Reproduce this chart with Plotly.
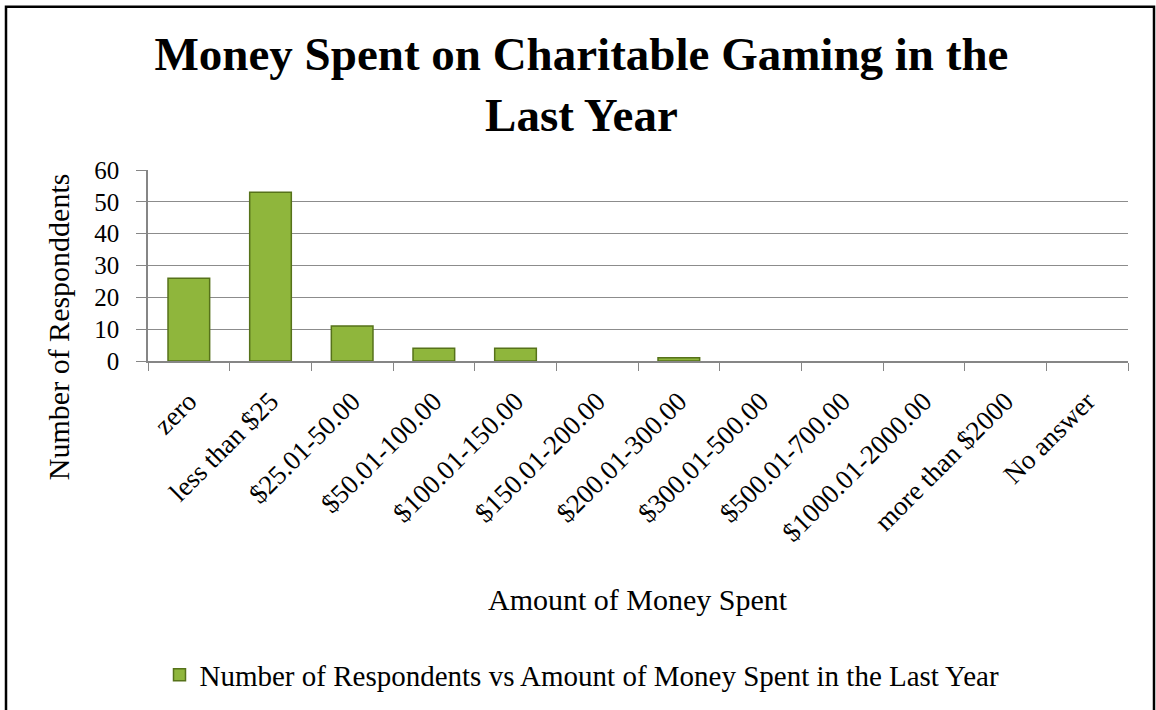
import plotly.graph_objects as go

categories = [
    "zero", "less than $25", "$25.01-50.00", "$50.01-100.00", "$100.01-150.00",
    "$150.01-200.00", "$200.01-300.00", "$300.01-500.00", "$500.01-700.00",
    "$1000.01-2000.00", "more than $2000", "No answer",
]
respondents = [26, 53, 11, 4, 4, 0, 1, 0, 0, 0, 0, 0]
y_ticks = [0, 10, 20, 30, 40, 50, 60]

W, H = 1156, 710
L, R, T, B = 148, 28, 170, 348
PW, PH = W - L - R, H - T - B

def px(x):
    return (x - L) / PW

def py(y):
    return (H - B - y) / PH

SERIF = "Liberation Serif, Times New Roman, serif"

# empty categories get no outline so nothing shows on the baseline
outline_widths = [1.5 if v > 0 else 0 for v in respondents]

fig = go.Figure()
fig.add_trace(go.Bar(
    x=categories,
    y=respondents,
    width=0.51,
    name="Number of Respondents vs Amount of Money Spent in the Last Year",
    marker=dict(color="#8fb63c", line=dict(color="#56721a", width=outline_widths)),
))

fig.update_layout(
    width=W, height=H,
    margin=dict(l=L, r=R, t=T, b=B),
    paper_bgcolor="white",
    plot_bgcolor="white",
    font=dict(family=SERIF, color="black"),
    title=dict(
        text="<b>Money Spent on Charitable Gaming in the<br>Last Year</b>",
        x=0.503, xref="container", xanchor="center",
        y=1 - 70 / H, yref="container", yanchor="middle",
        font=dict(family=SERIF, size=47, color="black"),
    ),
    showlegend=True,
    legend=dict(
        orientation="h", x=px(582), xanchor="center",
        y=py(675), yanchor="middle",
        font=dict(family=SERIF, size=29),
        itemwidth=30,
    ),
    bargap=0.49,
)

fig.update_xaxes(
    type="category",
    tickangle=-45,
    tickson="boundaries",
    ticks="outside", ticklen=8, tickcolor="#868686",
    ticklabelstandoff=12,
    showline=True, linecolor="#868686", linewidth=1.5,
    tickfont=dict(family=SERIF, size=27),
    showgrid=False,
)
fig.update_yaxes(
    range=[0, 60],
    tickvals=y_ticks,
    ticks="outside", ticklen=10, tickcolor="#868686",
    ticklabelstandoff=12,
    showline=True, linecolor="#868686", linewidth=1.5,
    gridcolor="#8c8c8c", gridwidth=1,
    tickfont=dict(family=SERIF, size=25),
    zeroline=False,
)

# Axis titles
fig.add_annotation(
    text="Amount of Money Spent", xref="paper", yref="paper",
    x=px(638), y=py(602), xanchor="center", yanchor="middle",
    showarrow=False, font=dict(family=SERIF, size=30),
)
fig.add_annotation(
    text="Number of Responddents", xref="paper", yref="paper",
    x=px(58), y=py(328), xanchor="center", yanchor="middle",
    showarrow=False, textangle=-90, font=dict(family=SERIF, size=30),
)

# Chart frame
fig.add_shape(
    type="rect", xref="paper", yref="paper",
    x0=px(6), x1=px(1154), y0=py(720), y1=py(6),
    line=dict(color="black", width=2.5), layer="above",
)

fig.write_html("out.html")
